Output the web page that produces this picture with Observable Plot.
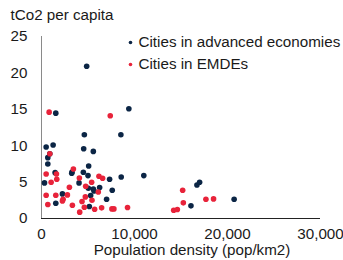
<!DOCTYPE html>
<html>
<head>
<meta charset="utf-8">
<script src="https://cdn.jsdelivr.net/npm/d3@7"></script>
<script src="https://cdn.jsdelivr.net/npm/@observablehq/plot@0.6"></script>
<style>
  html, body { margin: 0; padding: 0; background: #fff; }
  #chart svg { display: block; }
</style>
</head>
<body>
<div id="chart"></div>
<script>
// Cities in advanced economies: population density (pop/km2), tCO2 per capita
const advDensity = [4857, 9393, 1536, 4607, 8536, 1250, 500, 4536, 5571, 893, 679, 679, 5071, 3286, 3250, 1464, 4500, 5000, 8571, 11000, 7321, 321, 4036, 16714, 17000, 5036, 5571, 6250, 5643, 7607, 2250, 5286, 7000, 20714, 1536, 16071, 5143];
const advCo2     = [20.91, 15.07, 14.47, 11.51, 11.51, 10.09, 9.82, 9.59, 9.22, 8.90, 8.36, 7.49, 7.21, 6.39, 6.21, 6.30, 6.35, 5.89, 5.71, 5.89, 5.39, 4.89, 4.89, 4.61, 4.98, 4.16, 4.06, 4.25, 3.79, 3.88, 3.38, 3.15, 2.65, 2.65, 2.10, 1.74, 1.64];

// Cities in EMDEs
const emdeDensity = [821, 7393, 893, 3429, 500, 1607, 1643, 6179, 6571, 4071, 1036, 5393, 4750, 3000, 6107, 15179, 500, 1536, 2786, 4714, 2321, 2250, 5429, 4357, 17679, 18500, 15250, 679, 3321, 4607, 5714, 6464, 7571, 7786, 9250, 4107, 14214, 14607];
const emdeCo2     = [14.61, 14.11, 8.90, 6.80, 6.12, 6.12, 5.39, 5.80, 5.53, 5.57, 4.98, 4.98, 4.43, 4.29, 3.65, 3.88, 3.20, 3.20, 3.24, 2.97, 2.65, 2.42, 2.51, 2.33, 2.65, 2.69, 2.15, 1.92, 1.83, 1.55, 1.28, 1.46, 1.32, 1.32, 1.51, 0.87, 1.14, 1.23];

const seriesNames = ["Cities in advanced economies", "Cities in EMDEs"];
const xTicks = [0, 10000, 20000, 30000];
const yTicks = [0, 5, 10, 15, 20, 25];
const yTitle = "tCo2 per capita";
const xTitle = "Population density (pop/km2)";

const navy = "#0b2545";
const red = "#e8233a";
const font = "'Liberation Sans', Arial, sans-serif";
const fs = 15.2;

const adv = advDensity.map((d, i) => ({x: d, y: advCo2[i]}));
const emde = emdeDensity.map((d, i) => ({x: d, y: emdeCo2[i]}));

const chart = Plot.plot({
  width: 343,
  height: 260,
  marginLeft: 41,
  marginRight: 23,
  marginTop: 36,
  marginBottom: 42,
  style: {fontFamily: font, fontSize: fs + "px", color: "#1a1a1a", background: "#fff"},
  x: {domain: [0, 30000]},
  y: {domain: [0, 25]},
  marks: [
    Plot.axisY({ticks: yTicks, tickSize: 0, tickPadding: 14, label: null, fontSize: fs}),
    Plot.axisX({ticks: xTicks, tickSize: 0, tickPadding: 10, tickFormat: d3.format(","), label: null, fontSize: fs}),
    Plot.ruleX([0], {y1: 0, y2: 25, stroke: "#8a8a8a", strokeWidth: 1}),
    Plot.ruleY([0], {x1: 0, x2: 30000, stroke: "#222", strokeWidth: 1}),
    Plot.dot(adv, {x: "x", y: "y", r: 2.8, fill: navy, stroke: "none"}),
    Plot.dot(emde, {x: "x", y: "y", r: 2.8, fill: red, stroke: "none"}),
    // legend
    Plot.dot([seriesNames[0]], {frameAnchor: "top-left", dx: 89, dy: 6, r: 1.8, fill: navy}),
    Plot.dot([seriesNames[1]], {frameAnchor: "top-left", dx: 89, dy: 28, r: 1.8, fill: red}),
    Plot.text([seriesNames[0]], {text: d => d, frameAnchor: "top-left", dx: 97, dy: 6, textAnchor: "start", lineAnchor: "middle", fontSize: fs, fill: "#1a1a1a"}),
    Plot.text([seriesNames[1]], {text: d => d, frameAnchor: "top-left", dx: 97, dy: 28, textAnchor: "start", lineAnchor: "middle", fontSize: fs, fill: "#1a1a1a"}),
    // titles
    Plot.text([yTitle], {text: d => d, frameAnchor: "top-left", dx: -31, dy: -21, textAnchor: "start", lineAnchor: "middle", fontSize: fs, fill: "#1a1a1a"}),
    Plot.text([xTitle], {text: d => d, frameAnchor: "bottom", dx: 11, dy: 32, textAnchor: "middle", lineAnchor: "middle", fontSize: fs, fill: "#1a1a1a"})
  ]
});
document.getElementById("chart").appendChild(chart);
</script>
</body>
</html>
